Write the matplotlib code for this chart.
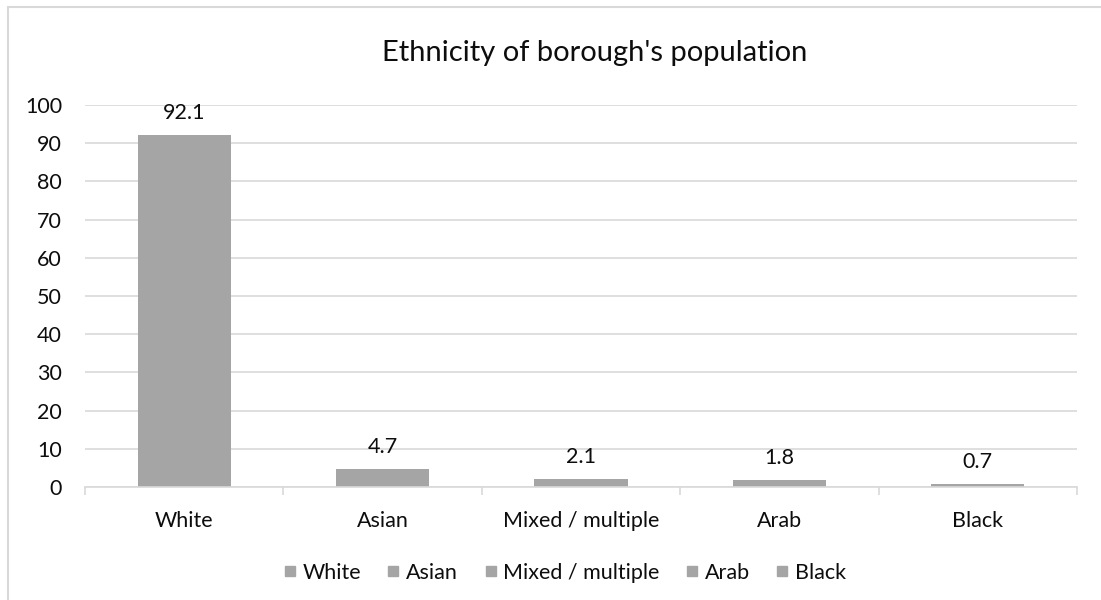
import matplotlib
matplotlib.use("Agg")
import matplotlib.pyplot as plt
from matplotlib.lines import Line2D
from matplotlib.patches import Rectangle
import numpy as np

categories = ["White", "Asian", "Mixed / multiple", "Arab", "Black"]
values = [92.1, 4.7, 2.1, 1.8, 0.7]
y_ticks = [0, 10, 20, 30, 40, 50, 60, 70, 80, 90, 100]
title = "Ethnicity of borough's population"

BAR = "#A5A5A5"
GRID = "#D9D9D9"
TXT = "#0d0d0d"
FONT = "Lato"
FS = 15.5

plt.rcParams["font.family"] = [FONT, "DejaVu Sans"]

fig = plt.figure(figsize=(11.01, 6.0), dpi=100)
ax = fig.add_axes([85 / 1101, 1 - 487 / 600, (1077 - 85) / 1101, (487 - 105) / 600])

x = np.arange(len(categories))
ax.bar(x, values, width=0.47, color=BAR, zorder=2)

for xi, v in zip(x, values):
    ax.annotate(f"{v}", (xi, v), xytext=(0, 16), textcoords="offset points",
                ha="center", va="center", fontsize=FS, color=TXT)

ax.set_xlim(-0.5, len(categories) - 0.5)
ax.set_ylim(0, 100)
ax.set_yticks(y_ticks)
ax.set_yticklabels([str(t) for t in y_ticks], fontsize=FS, color=TXT)
ax.yaxis.grid(True, color=GRID, linewidth=1.2, zorder=0)
ax.set_axisbelow(True)
ax.tick_params(axis="y", length=0, pad=16.5)

ax.set_xticks(x)
ax.set_xticklabels(categories, fontsize=FS, color=TXT)
ax.set_xticks(np.arange(-0.5, len(categories)), minor=True)
ax.tick_params(axis="x", which="major", length=0, pad=17)
ax.tick_params(axis="x", which="minor", length=6, color=GRID, width=1.2, direction="out")

for s in ["left", "right", "top"]:
    ax.spines[s].set_visible(False)
ax.spines["bottom"].set_color(GRID)
ax.spines["bottom"].set_linewidth(1.2)

fig.text(0.54, 1 - 53 / 600, title, ha="center", va="center", fontsize=21, color=TXT)

handles = [Line2D([0], [0], marker="s", linestyle="none", markersize=7,
                  markerfacecolor=BAR, markeredgecolor=BAR) for _ in categories]
fig.legend(handles, categories, loc="center", bbox_to_anchor=(0.513, 1 - 573 / 600),
           ncol=len(categories), frameon=False, fontsize=FS, handlelength=0.6,
           handletextpad=0.3, columnspacing=1.2, labelcolor=TXT)

# chart-area border (top and left visible)
fig.patches.append(Rectangle((8 / 1101, -0.1), 1.2, 1 - 7 / 600 + 0.1,
                             transform=fig.transFigure, fill=False,
                             edgecolor=GRID, linewidth=1.5))

fig.savefig("out.png", dpi=100)
